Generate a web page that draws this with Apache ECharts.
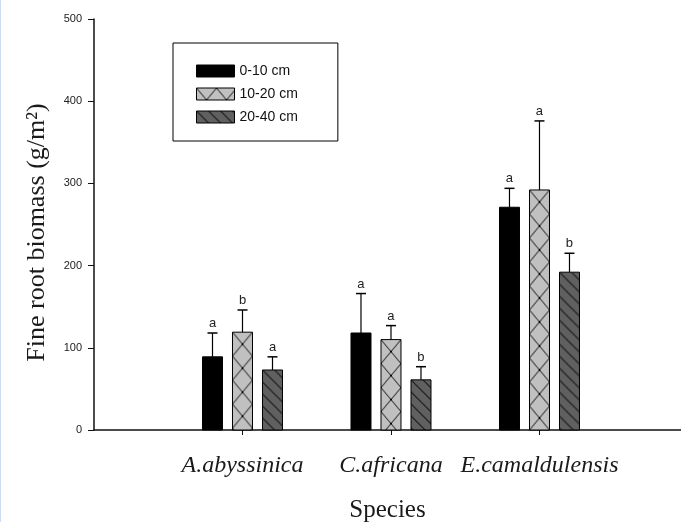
<!DOCTYPE html>
<html>
<head>
<meta charset="utf-8">
<script src="https://cdn.jsdelivr.net/npm/echarts@6/dist/echarts.min.js"></script>
<style>
  html, body { margin: 0; padding: 0; background: #fff; overflow: hidden; }
  #chart { width: 680px; height: 522px; border-left: 1px solid #cddcf0; }
</style>
</head>
<body>
<div id="chart"></div>
<script>
// data
const species = ['A.abyssinica', 'C.africana', 'E.camaldulensis']
const speciesPos = [1, 2, 3]
const depths = ['0-10 cm', '10-20 cm', '20-40 cm']
const mean0_10 = [89, 118, 271]
const err0_10 = [29, 48, 23]
const mean10_20 = [119, 110, 292]
const err10_20 = [27, 17, 84]
const mean20_40 = [73, 61, 192]
const err20_40 = [16, 16, 23]
const letters0_10 = ['a', 'a', 'a']
const letters10_20 = ['b', 'a', 'a']
const letters20_40 = ['a', 'b', 'b']
const yTicks = [0, 100, 200, 300, 400, 500]

// fill patterns
const makeCross = () => {
  const c = document.createElement('canvas')
  c.width = 20; c.height = 24
  const g = c.getContext('2d')
  g.fillStyle = '#c0c0c0'
  g.fillRect(0, 0, 20, 24)
  g.strokeStyle = '#111'
  g.lineWidth = 1
  g.beginPath()
  g.moveTo(0, 0); g.lineTo(20, 24)
  g.moveTo(20, 0); g.lineTo(0, 24)
  g.stroke()
  g.fillStyle = '#000'
  g.fillRect(9, 11, 2, 2)
  return c
}
const makeHatch = () => {
  const c = document.createElement('canvas')
  c.width = 12; c.height = 12
  const g = c.getContext('2d')
  g.fillStyle = '#606060'
  g.fillRect(0, 0, 12, 12)
  g.strokeStyle = '#1a1a1a'
  g.lineWidth = 1.2
  g.beginPath()
  for (let s = -12; s <= 12; s += 12) {
    g.moveTo(s - 1, -1); g.lineTo(s + 13, 13)
  }
  g.stroke()
  return c
}
const crossImg = makeCross()
const hatchImg = makeHatch()

const fills = ['#000', crossImg, hatchImg]
const means = [mean0_10, mean10_20, mean20_40]
const errs = [err0_10, err10_20, err20_40]
const letters = [letters0_10, letters10_20, letters20_40]

const barW = 20
const step = 30

const fillFor = (k, x, y) => {
  const f = fills[k]
  if (typeof f === 'string') return f
  return { image: f, repeat: 'repeat', x: x, y: y }
}
const legendFill = (k) => typeof fills[k] === 'string' ? fills[k] : { image: fills[k], repeat: 'repeat' }

const makeSeries = (k) => ({
  name: depths[k],
  type: 'custom',
  itemStyle: { color: legendFill(k) },
  data: means[k].map((v, i) => [speciesPos[i], v, errs[k][i]]),
  renderItem: (params, api) => {
    const i = api.value(0)
    const v = api.value(1)
    const e = api.value(2)
    const base = api.coord([i, 0])
    const top = api.coord([i, v])
    const etop = api.coord([i, v + e])
    const cx = base[0] + (k - 1) * step
    const x0 = cx - barW / 2
    return {
      type: 'group',
      children: [
        {
          type: 'rect',
          shape: { x: x0, y: top[1], width: barW, height: base[1] - top[1] },
          style: { fill: fillFor(k, x0, top[1]), stroke: '#000', lineWidth: 1 }
        },
        {
          type: 'line',
          shape: { x1: cx, y1: top[1], x2: cx, y2: etop[1] },
          style: { stroke: '#000', lineWidth: 1.2 }
        },
        {
          type: 'line',
          shape: { x1: cx - 5, y1: etop[1], x2: cx + 5, y2: etop[1] },
          style: { stroke: '#000', lineWidth: 1.5 }
        },
        {
          type: 'text',
          style: {
            text: letters[k][params.dataIndex],
            x: cx, y: etop[1] - 3,
            align: 'center', verticalAlign: 'bottom',
            font: '13px "Liberation Sans", Arial, sans-serif',
            fill: '#222'
          }
        }
      ]
    }
  }
})

const chart = echarts.init(document.getElementById('chart'))
chart.setOption({
  animation: false,
  backgroundColor: '#fff',
  grid: { left: 93, right: 0, top: 19, bottom: 92, outerBoundsMode: 'none' },
  legend: {
    data: depths.map((d, k) => ({
      name: d,
      icon: 'rect',
      itemStyle: { color: legendFill(k), borderColor: '#000', borderWidth: 1 }
    })),
    orient: 'vertical',
    left: 172,
    top: 43,
    itemWidth: 38,
    itemHeight: 12,
    itemGap: 9,
    padding: [21, 40, 17, 23],
    borderColor: '#000',
    borderWidth: 1,
    selectedMode: false,
    textStyle: { fontFamily: '"Liberation Sans", Arial, sans-serif', fontSize: 14, color: '#111', lineHeight: 12 }
  },
  xAxis: {
    type: 'value',
    min: 0,
    max: 3.953,
    name: 'Species',
    nameLocation: 'middle',
    nameGap: 68,
    nameTextStyle: { fontFamily: '"Liberation Serif", "Times New Roman", serif', fontSize: 25, color: '#1a1a1a' },
    axisLine: { lineStyle: { color: '#111', width: 1.5 } },
    axisTick: { show: true, length: 5, customValues: speciesPos, lineStyle: { color: '#111' } },
    axisLabel: {
      customValues: speciesPos,
      formatter: (v) => species[Math.round(v) - 1] || '',
      margin: 24,
      fontFamily: '"Liberation Serif", "Times New Roman", serif',
      fontStyle: 'italic',
      fontSize: 24,
      color: '#1a1a1a'
    },
    splitLine: { show: false }
  },
  yAxis: {
    type: 'value',
    min: yTicks[0],
    max: yTicks[yTicks.length - 1],
    interval: 100,
    name: 'Fine root biomass (g/m²)',
    nameLocation: 'middle',
    nameGap: 44,
    nameTextStyle: { fontFamily: '"Liberation Serif", "Times New Roman", serif', fontSize: 26, color: '#1a1a1a', padding: [0, 16, 0, 0] },
    axisLine: { show: true, lineStyle: { color: '#111', width: 1.5 } },
    axisTick: { show: true, length: 6, lineStyle: { color: '#111' } },
    axisLabel: { margin: 12, fontFamily: '"Liberation Sans", Arial, sans-serif', fontSize: 11, color: '#222' },
    splitLine: { show: false }
  },
  series: [makeSeries(0), makeSeries(1), makeSeries(2)]
})
</script>
</body>
</html>
